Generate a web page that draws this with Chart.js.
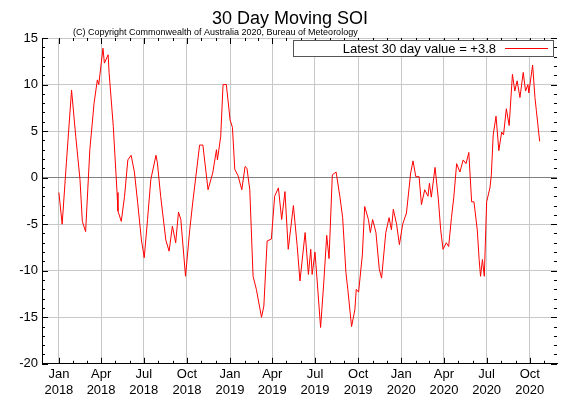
<!DOCTYPE html>
<html>
<head>
<meta charset="utf-8">
<script src="https://cdn.jsdelivr.net/npm/chart.js@4/dist/chart.umd.min.js"></script>
<style>
  html, body { margin: 0; padding: 0; background: #fff; }
  #wrap { width: 576px; height: 403px; }
</style>
</head>
<body>
<div id="wrap"><canvas id="soiChart"></canvas></div>
<script>
// ————— Datos (días desde 1 ene 2018, valor SOI) —————
const DAYS = [0,7,16,27,36,45,50,57,66,75,82,85,94,97,105,107,116,124,126,133,140,147,154,161,168,176,182,189,196,207,210,217,228,235,242,249,255,260,270,279,286,292,300,307,318,328,336,338,345,350,357,365,370,375,382,390,397,401,407,414,421,432,437,444,453,460,468,475,482,489,500,508,514,525,532,537,540,546,548,558,565,571,576,583,591,599,605,612,616,624,631,634,639,647,652,660,664,669,676,683,688,697,704,709,713,720,726,733,741,750,755,761,768,773,780,787,790,794,802,809,814,819,826,831,837,842,848,855,862,868,874,880,885,892,896,899,903,907,912,919,922,926,932,938,944,948,954,960,967,972,977,983,990,995,1000,1002,1010,1015,1018,1025];
const SOI  = [-1.6,-5.0,1.6,9.4,4.4,-0.2,-4.7,-5.8,3.0,8.0,10.5,10.0,13.9,12.3,13.2,11.3,5.5,-1.6,-3.6,-4.7,-2.0,1.9,2.4,0.6,-2.7,-6.7,-8.6,-4.5,-0.2,2.4,1.6,-2.0,-6.7,-7.9,-5.2,-7.0,-3.7,-4.5,-10.6,-5.6,-2.4,0.1,3.5,3.5,-1.3,0.5,3.0,1.9,4.4,10.0,10.0,6.2,5.4,0.9,0.2,-1.3,1.2,1.0,-1.3,-10.6,-12.0,-15.0,-13.8,-6.8,-6.6,-2.0,-1.1,-4.5,-1.5,-7.7,-3.0,-7.3,-11.1,-5.9,-10.4,-7.7,-10.4,-8.0,-9.3,-16.1,-11.1,-6.2,-8.7,0.3,0.6,-2.0,-4.3,-10.2,-12.0,-16.0,-14.2,-12.0,-12.3,-8.3,-3.1,-4.5,-5.9,-4.5,-5.9,-9.8,-10.8,-5.9,-4.3,-5.6,-3.4,-5.0,-7.2,-5.0,-3.8,0.5,1.8,0.1,0.1,-2.9,-1.3,-2.0,-0.6,-2.1,1.1,-2.3,-5.6,-7.7,-7.0,-7.4,-4.3,-2.1,1.5,0.6,1.9,1.5,2.7,-2.6,-2.6,-5.6,-8.8,-10.6,-8.8,-10.6,-2.6,-1.1,0.3,4.6,6.6,2.9,4.9,4.6,7.4,5.6,11.1,9.3,10.4,8.6,11.3,9.3,10.0,9.1,12.1,8.6,7.2,3.9];
const TICK_DAYS   = [0,90,181,273,365,455,546,638,730,821,912,1004];
const TICK_LABELS = [['Jan','2018'],['Apr','2018'],['Jul','2018'],['Oct','2018'],['Jan','2019'],['Apr','2019'],['Jul','2019'],['Oct','2019'],['Jan','2020'],['Apr','2020'],['Jul','2020'],['Oct','2020']];
const MONTH_DAYS  = [0,31,59,90,120,151,181,212,243,273,304,334,365,396,424,455,485,516,546,577,608,638,669,699,730,761,790,821,851,882,912,943,974,1004,1035];
const Y_TICKS     = [-20,-15,-10,-5,0,5,10,15];
const TITLE  = '30 Day Moving SOI';
const COPY   = '(C) Copyright Commonwealth of Australia 2020, Bureau of Meteorology';
const LEGEND = 'Latest 30 day value = +3.8';

const FONT = 'Liberation Sans, Arial, sans-serif';

// ————— Plugin: título, ticks menores, leyenda —————
const extras = {
  id: 'extras',
  afterDraw(chart) {
    const { ctx, chartArea: a, scales: { x, y } } = chart;
    ctx.save();
    ctx.fillStyle = '#000';
    ctx.textBaseline = 'alphabetic';
    ctx.font = '18px ' + FONT;
    ctx.textAlign = 'center';
    ctx.fillText(TITLE, 290, 24);
    ctx.font = '9px ' + FONT;
    ctx.textAlign = 'left';
    ctx.fillText(COPY, 73, 35);

    // ticks menores
    ctx.strokeStyle = '#000';
    ctx.lineWidth = 1;
    ctx.beginPath();
    for (let v = -20; v <= 15; v++) {
      const py = Math.round(y.getPixelForValue(v)) + 0.5;
      const len = v % 5 === 0 ? 6 : 3;
      ctx.moveTo(a.left, py); ctx.lineTo(a.left + len, py);
      ctx.moveTo(a.right, py); ctx.lineTo(a.right - len, py);
    }
    MONTH_DAYS.forEach(d => {
      const px = Math.round(x.getPixelForValue(d)) + 0.5;
      const len = TICK_DAYS.includes(d) ? 6 : 3;
      ctx.moveTo(px, a.bottom); ctx.lineTo(px, a.bottom - len);
      ctx.moveTo(px, a.top); ctx.lineTo(px, a.top + len);
    });
    ctx.stroke();

    // leyenda
    ctx.fillStyle = '#fff';
    ctx.fillRect(293.5, 40.5, 260, 16);
    ctx.strokeStyle = '#555';
    ctx.strokeRect(293.5, 40.5, 260, 16);
    ctx.fillStyle = '#000';
    ctx.font = '13px ' + FONT;
    ctx.textAlign = 'right';
    ctx.fillText(LEGEND, 496, 53);
    ctx.strokeStyle = '#ff0000';
    ctx.beginPath();
    ctx.moveTo(505, 48.5); ctx.lineTo(548, 48.5);
    ctx.stroke();
    ctx.restore();
  }
};

new Chart(document.getElementById('soiChart'), {
  type: 'line',
  data: {
    datasets: [{
      data: DAYS.map((d, i) => ({ x: d, y: SOI[i] })),
      borderColor: '#ff0000',
      borderWidth: 1,
      pointRadius: 0,
      tension: 0,
      fill: false
    }]
  },
  options: {
    responsive: true,
    maintainAspectRatio: false,
    animation: false,
    layout: { padding: { top: 38, right: 19, left: 0, bottom: 2 } },
    plugins: { legend: { display: false }, tooltip: { enabled: false } },
    scales: {
      x: {
        type: 'linear',
        min: -36, max: 1062,
        afterBuildTicks: s => { s.ticks = TICK_DAYS.map(v => ({ value: v })); },
        ticks: {
          autoSkip: false, maxRotation: 0, color: '#000', padding: 3,
          font: { family: FONT, size: 13 },
          callback: (v) => TICK_LABELS[TICK_DAYS.indexOf(v)]
        },
        grid: { color: '#c8c8c8', drawTicks: false },
        border: { color: '#000' }
      },
      y: {
        min: -20, max: 15,
        afterBuildTicks: s => { s.ticks = Y_TICKS.map(v => ({ value: v })); },
        afterFit: s => { s.width = 42; },
        ticks: { color: '#000', padding: 4, font: { family: FONT, size: 13 } },
        grid: {
          drawTicks: false,
          color: c => c.tick && c.tick.value === 0 ? '#808080' : '#c8c8c8'
        },
        border: { color: '#000' }
      }
    }
  },
  plugins: [extras]
});
</script>
</body>
</html>
